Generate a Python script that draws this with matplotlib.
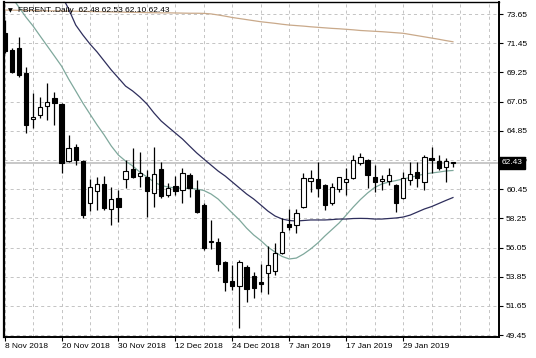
import matplotlib
matplotlib.use("Agg")
import matplotlib.pyplot as plt
import numpy as np

plt.rcParams['font.family'] = ['Liberation Sans', 'DejaVu Sans']
plt.rcParams['lines.scale_dashes'] = False

# ---- data (daily candles, bar index 0 = 8 Nov 2018) ----
opens = [72.22, 70.94, 71.07, 69.18, 65.72, 66.04, 66.74, 67.30, 66.87, 62.60,
         63.61, 62.60, 59.43, 60.33, 60.84, 58.93, 59.76, 61.19, 61.95, 61.44,
         61.39, 60.18, 61.95, 60.01, 60.69, 60.39, 61.52, 60.39, 59.26, 56.47,
         56.47, 54.96, 53.53, 53.15, 54.62, 53.87, 53.49, 54.13, 54.25, 55.64,
         57.83, 57.75, 59.13, 61.09, 61.19, 60.76, 59.38, 60.44, 60.97, 61.27,
         62.40, 62.65, 61.39, 61.07, 61.09, 60.76, 59.76, 61.14, 61.77, 61.01,
         62.78, 62.60, 62.10, 62.48]
highs = [73.20, 71.07, 71.94, 69.68, 67.67, 67.42, 68.43, 67.79, 66.95, 64.53,
         63.85, 62.65, 61.20, 61.39, 61.44, 60.64, 60.39, 62.65, 63.53, 63.27,
         61.89, 63.65, 62.52, 60.89, 61.44, 62.02, 61.65, 61.14, 59.41, 58.13,
         56.75, 55.04, 54.74, 55.11, 54.74, 54.21, 54.81, 56.17, 56.37, 58.25,
         58.93, 58.93, 61.65, 61.89, 62.52, 60.84, 60.89, 61.39, 62.02, 63.02,
         63.15, 62.72, 62.27, 61.52, 62.02, 60.84, 61.77, 62.52, 62.52, 63.02,
         63.65, 63.02, 62.78, 62.53]
lows = [70.71, 69.18, 68.93, 64.66, 65.04, 65.79, 65.66, 65.29, 61.65, 62.52,
        62.27, 58.25, 58.80, 58.88, 58.88, 57.75, 58.00, 60.52, 61.27, 60.64,
        58.38, 59.08, 59.76, 59.88, 60.01, 59.38, 59.88, 58.63, 55.87, 55.95,
        54.26, 52.78, 52.85, 49.99, 51.95, 52.25, 52.70, 52.55, 53.98, 55.60,
        57.37, 57.12, 59.01, 60.24, 59.88, 58.88, 59.26, 60.26, 60.01, 61.22,
        62.27, 60.52, 60.26, 60.39, 60.76, 58.75, 59.71, 60.76, 60.64, 60.39,
        61.65, 61.89, 61.01, 62.10]
closes = [70.86, 69.30, 69.05, 65.29, 65.91, 66.62, 67.04, 66.97, 62.40, 63.53,
          62.65, 58.50, 60.64, 60.84, 59.01, 59.69, 59.13, 61.84, 61.39, 61.65,
          60.33, 61.59, 59.93, 60.52, 60.33, 61.65, 60.52, 58.75, 56.00, 56.54,
          54.81, 53.49, 53.15, 54.99, 52.93, 53.00, 53.30, 54.74, 55.62, 57.24,
          57.62, 58.68, 61.27, 61.27, 60.52, 59.26, 60.59, 61.34, 61.19, 62.65,
          62.85, 61.52, 60.97, 61.19, 61.52, 59.38, 61.27, 61.59, 61.27, 62.90,
          62.65, 62.02, 62.60, 62.43]

# moving averages (one value per bar)
ma_slow = [73.95, 73.94, 73.93, 73.92, 73.91, 73.90, 73.89, 73.89, 73.88, 73.87,
           73.86, 73.85, 73.84, 73.83, 73.82, 73.81, 73.80, 73.79, 73.78, 73.77,
           73.76, 73.75, 73.74, 73.74, 73.73, 73.72, 73.71, 73.71, 73.70, 73.66,
           73.58, 73.49, 73.39, 73.31, 73.23, 73.15, 73.07, 73.01, 72.95, 72.88,
           72.82, 72.78, 72.74, 72.69, 72.65, 72.61, 72.57, 72.54, 72.50, 72.46,
           72.41, 72.38, 72.35, 72.32, 72.28, 72.24, 72.20, 72.11, 72.02, 71.93,
           71.84, 71.75, 71.65, 71.56]
ma_fast = [75.68, 74.93, 74.18, 73.42, 72.75, 71.99, 71.24, 70.49, 69.73, 68.75,
           67.85, 66.94, 66.11, 65.29, 64.53, 63.70, 63.02, 62.57, 62.20, 61.74,
           61.37, 60.99, 60.73, 60.61, 60.54, 60.52, 60.52, 60.46, 60.35, 60.09,
           59.71, 59.18, 58.65, 58.13, 57.52, 57.00, 56.58, 56.09, 55.71, 55.38,
           55.19, 55.26, 55.56, 55.94, 56.39, 56.92, 57.41, 57.90, 58.50, 59.11,
           59.67, 60.16, 60.58, 60.84, 60.99, 61.10, 61.22, 61.33, 61.48, 61.59,
           61.67, 61.74, 61.82, 61.86]
ma_mid_start = 7
ma_mid = [75.99, 75.08, 74.03, 72.82, 72.07, 71.39, 70.79, 70.11, 69.43, 68.83,
          68.22, 67.85, 67.40, 66.87, 66.19, 65.59, 65.13, 64.68, 64.23, 63.70,
          63.18, 62.72, 62.27, 61.82, 61.44, 60.99, 60.54, 60.09, 59.71, 59.26,
          58.80, 58.43, 58.20, 58.09, 58.05, 58.09, 58.13, 58.13, 58.13, 58.16,
          58.20, 58.20, 58.24, 58.25, 58.24, 58.20, 58.20, 58.24, 58.28, 58.35,
          58.50, 58.73, 58.96, 59.14, 59.37, 59.60, 59.82]

ytick_vals = [73.65, 71.45, 69.25, 67.05, 64.85, 62.65, 60.45, 58.25, 56.05, 53.85, 51.65, 49.45]
date_ticks = [0, 8, 16, 24, 32, 40, 48, 56]
date_labels = ["8 Nov 2018", "20 Nov 2018", "30 Nov 2018", "12 Dec 2018",
               "24 Dec 2018", "7 Jan 2019", "17 Jan 2019", "29 Jan 2019"]
symbol = "FBRENT..Daily"
last_price = 62.43

# ---- figure ----
W, H = 536, 358
fig = plt.figure(figsize=(W / 100, H / 100), dpi=100)
ax = fig.add_axes([4 / W, 1 - 337 / H, (498.5 - 4) / W, (337 - 1.7) / H])
ax.set_xlim(-0.08, 69.4)
ax.set_ylim(49.31, 74.58)

grid_c = '#c4c4c4'
for v in ytick_vals:
    ax.axhline(v, color=grid_c, lw=0.7, ls=(0, (2.2, 2.2)), zorder=0)
for xi in range(0, 70, 4):
    ax.axvline(xi, color=grid_c, lw=0.7, ls=(0, (2.2, 2.2)), zorder=0)

# last price line
ax.axhline(last_price, color='#c8c8c8', lw=1.4, zorder=1)

# moving averages
n = len(opens)
xs = np.arange(n)
ax.plot(xs, ma_slow, color='#c9a98a', lw=0.9, zorder=2)
ax.plot(xs, ma_fast, color='#7fa89c', lw=0.9, zorder=2)
ax.plot(np.arange(ma_mid_start, ma_mid_start + len(ma_mid)), ma_mid, color='#2e2e5c', lw=0.9, zorder=2)

# candles
bw = 0.6
for i in range(n):
    o, h, l, c = opens[i], highs[i], lows[i], closes[i]
    ax.vlines(i, l, h, color='black', lw=0.9, zorder=3)
    lo, hi = min(o, c), max(o, c)
    height = max(hi - lo, 0.06)
    if c >= o:
        ax.bar(i, height, bottom=lo, width=bw, facecolor='white', edgecolor='black', lw=0.8, zorder=4)
    else:
        ax.bar(i, height, bottom=lo, width=bw, facecolor='black', edgecolor='black', lw=0.8, zorder=4)

# axes styling
for s in ax.spines.values():
    s.set_color('black')
    s.set_linewidth(1.0)
ax.spines['left'].set_linewidth(1.6)
ax.spines['bottom'].set_linewidth(1.4)
ax.spines['right'].set_linewidth(1.4)

ax.yaxis.tick_right()
ax.set_yticks(ytick_vals)
ax.set_yticklabels([f"{v:.2f}" for v in ytick_vals])
ax.tick_params(axis='y', length=3, width=0.8, pad=2.5, labelsize=6, colors='black')
ax.set_xticks(date_ticks)
ax.set_xticklabels(date_labels, ha='left')
ax.tick_params(axis='x', length=3, width=0.8, pad=1.5, labelsize=6, colors='black')

# last price label (drawn over the 62.65 tick label, as in the terminal)
ax.text(1.006, last_price, f"{last_price:.2f}", transform=ax.get_yaxis_transform(),
        ha='left', va='center', fontsize=6, color='white', zorder=10,
        bbox=dict(boxstyle='square,pad=0.3', fc='black', ec='black'), clip_on=False)

# header
fig.text(8 / W, 1 - 10.7 / H, "▼", fontsize=4.5, family=['DejaVu Sans'], va='center', ha='left')
fig.text(18 / W, 1 - 10.7 / H, f"{symbol}  {opens[-1]:.2f} {highs[-1]:.2f} {lows[-1]:.2f} {closes[-1]:.2f}",
         fontsize=6.0, va='center', ha='left', color='black')

fig.savefig("out.png", dpi=100)
